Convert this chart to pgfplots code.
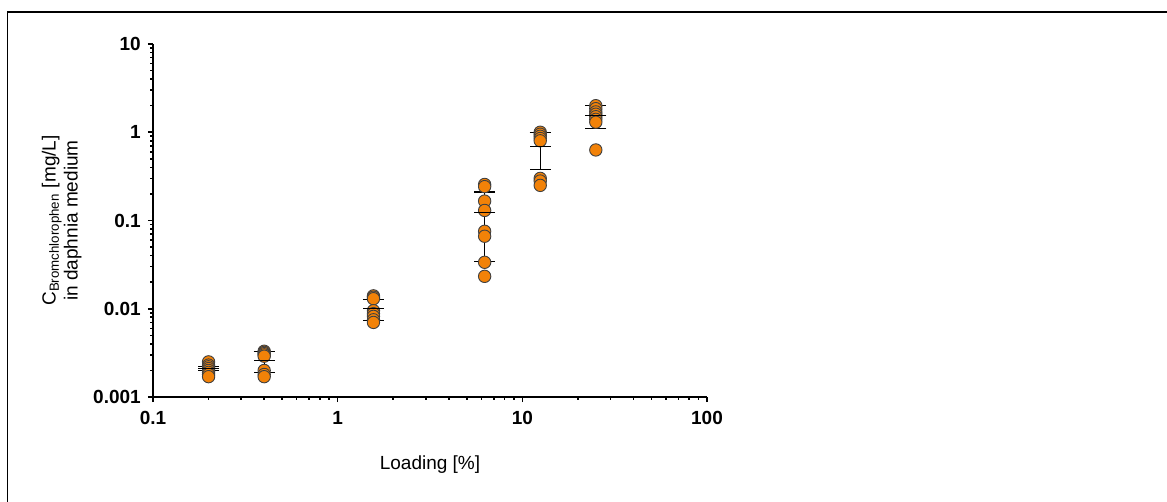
\documentclass[border=0pt]{standalone}
\usepackage{fontspec}
\setmainfont{Liberation Sans}
\usepackage{pgfplots}
\pgfplotsset{compat=1.18}
\usepackage{pgfplotstable}
\definecolor{dotfill}{RGB}{242,130,8}

\pgfplotstableread{
x y
0.2 0.0025
0.2 0.0023
0.2 0.0022
0.2 0.0021
0.2 0.0020
0.2 0.0019
0.2 0.0018
0.2 0.0017
0.4 0.0033
0.4 0.0032
0.4 0.0031
0.4 0.0030
0.4 0.0029
0.4 0.0020
0.4 0.0018
0.4 0.0017
1.5625 0.0140
1.5625 0.0135
1.5625 0.0130
1.5625 0.0095
1.5625 0.0088
1.5625 0.0082
1.5625 0.0075
1.5625 0.0070
6.25 0.256
6.25 0.242
6.25 0.166
6.25 0.130
6.25 0.0755
6.25 0.0663
6.25 0.0336
6.25 0.0233
12.5 1.00
12.5 0.95
12.5 0.90
12.5 0.85
12.5 0.80
12.5 0.30
12.5 0.28
12.5 0.25
25 2.00
25 1.85
25 1.70
25 1.60
25 1.50
25 1.40
25 1.30
25 0.63
}\points

\pgfplotstableread{
x m sd
0.2 0.0021 0.0001
0.4 0.0026 0.0007
1.5625 0.0100 0.0027
6.25 0.122 0.088
12.5 0.688 0.31
25 1.56 0.45
}\means

\begin{document}
\begin{tikzpicture}
\useasboundingbox (-76.5pt,-52.5pt) rectangle (507pt,198.5pt);
\draw[line width=0.75pt] (-72.75pt,-52.5pt) -- (-72.75pt,192.5pt) -- (155pt,192.5pt);
\draw[line width=1.1pt] (155pt,192.5pt) -- (507pt,192.5pt);
\begin{axis}[
  at={(0,0)}, anchor=south west,
  scale only axis, width=277pt, height=176.5pt,
  xmode=log, ymode=log,
  xmin=0.1, xmax=100, ymin=0.001, ymax=10,
  axis x line*=bottom, axis y line*=left,
  axis line style={line width=1pt, black},
  tick align=outside,
  major tick length=2.6pt, minor tick length=1.5pt,
  tick style={line width=0.8pt, black},
  xtick={0.1,1,10,100}, xticklabels={0.1,1,10,100},
  ytick={0.001,0.01,0.1,1,10}, yticklabels={0.001,0.01,0.1,1,10},
  minor xtick={0.2,0.3,0.4,0.5,0.6,0.7,0.8,0.9,2,3,4,5,6,7,8,9,20,30,40,50,60,70,80,90},
  minor ytick={0.002,0.003,0.004,0.005,0.006,0.007,0.008,0.009,0.02,0.03,0.04,0.05,0.06,0.07,0.08,0.09,0.2,0.3,0.4,0.5,0.6,0.7,0.8,0.9,2,3,4,5,6,7,8,9},
  ticklabel style={font=\fontsize{9.5}{11}\selectfont\bfseries},
  xticklabel style={yshift=-1pt},
  label style={font=\fontsize{9.5}{11}\selectfont},
  xlabel={Loading [\%]},
  xlabel style={at={(axis description cs:0.5,0)}, anchor=center, yshift=-34pt},
  ylabel={C\textsubscript{Bromchlorophen} [mg/L]\\in daphnia medium},
  ylabel style={align=center, at={(axis description cs:-0.165,0.5)}, anchor=center},
  clip=false,
]
\addplot[only marks, mark=*, mark size=3.1pt,
  mark options={fill=dotfill, draw=black!75, line width=0.45pt}]
  table[x=x, y=y] {\points};
\addplot[only marks, mark=-, mark size=5.25pt,
  mark options={black, line width=0.6pt},
  error bars/.cd, y dir=both, y explicit,
  error mark=|,
  error bar style={line width=0.6pt, black},
  error mark options={black, line width=0.6pt, mark size=5.25pt}]
  table[x=x, y=m, y error=sd] {\means};
\end{axis}
\end{tikzpicture}
\end{document}
